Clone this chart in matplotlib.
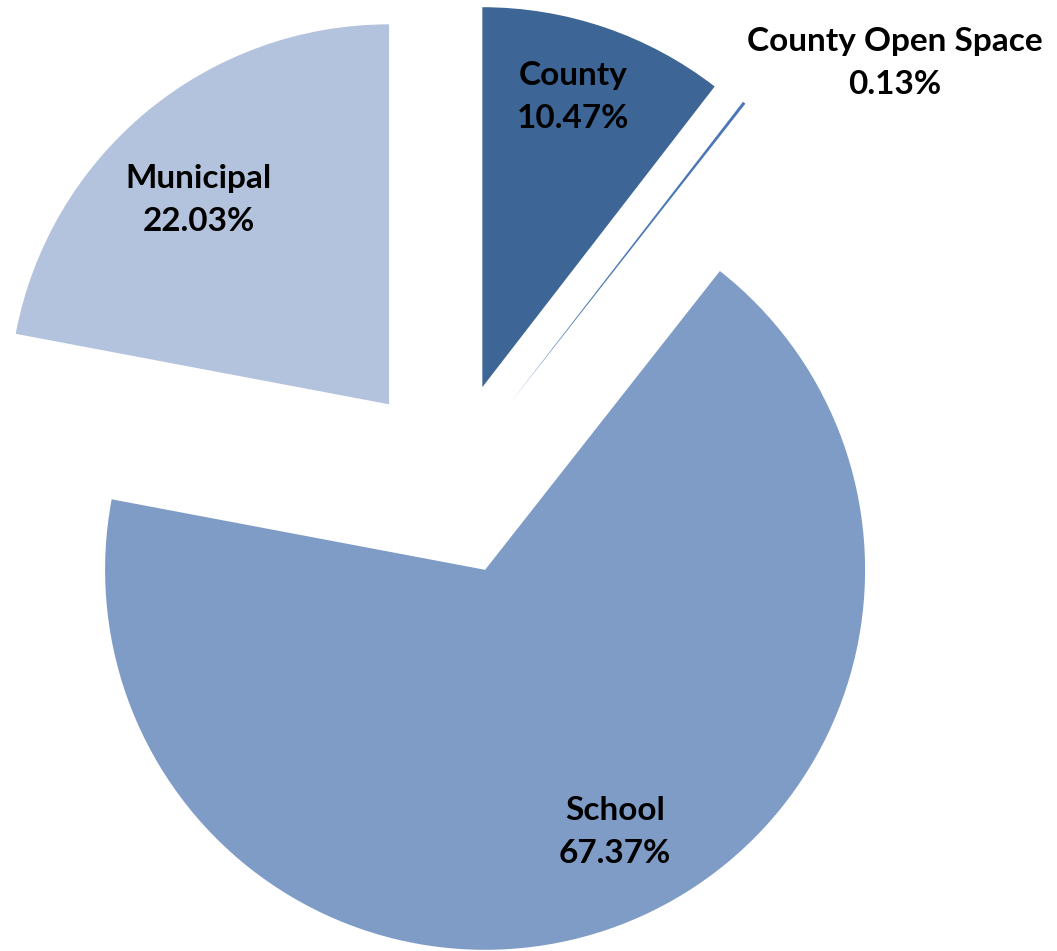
import numpy as np
import matplotlib.pyplot as plt

# Share of property value by taxing body
categories = ["County", "County Open Space", "School", "Municipal"]
shares = [10.47, 0.13, 67.37, 22.03]
colors = ["#3D6697", "#4B78B4", "#7F9CC7", "#B4C3DD"]
# label position from each wedge tip: distance (fraction of radius)
# and turn (degrees) away from the wedge's mid-angle
label_dist = [0.80, 1.35, 0.77, 0.735]
label_turn = [1.5, -10.6, 5.8, 3.4]

plt.rcParams['font.family'] = ['Lato', 'DejaVu Sans']

fig = plt.figure(figsize=(10.57, 9.51), dpi=100)
ax = fig.add_axes([0, 0, 1, 1])

R = 380
wedges, _ = ax.pie(shares, colors=colors, startangle=90, counterclock=False,
                   radius=R, center=(451, 472), explode=[97] * len(shares),
                   wedgeprops=dict(linewidth=0))
ax.set_xlim(0, 1057)
ax.set_ylim(0, 951)
ax.set_aspect('equal')
ax.axis('off')

for w, name, val, d, t in zip(wedges, categories, shares, label_dist, label_turn):
    mid = np.deg2rad((w.theta1 + w.theta2) / 2 + t)
    cx, cy = w.center
    x = cx + d * w.r * np.cos(mid)
    y = cy + d * w.r * np.sin(mid)
    ax.text(x, y, f"{name}\n{val:.2f}%", ha='center', va='center',
            fontsize=24, fontweight='bold', linespacing=1.6)

fig.savefig("out.png", dpi=100)
